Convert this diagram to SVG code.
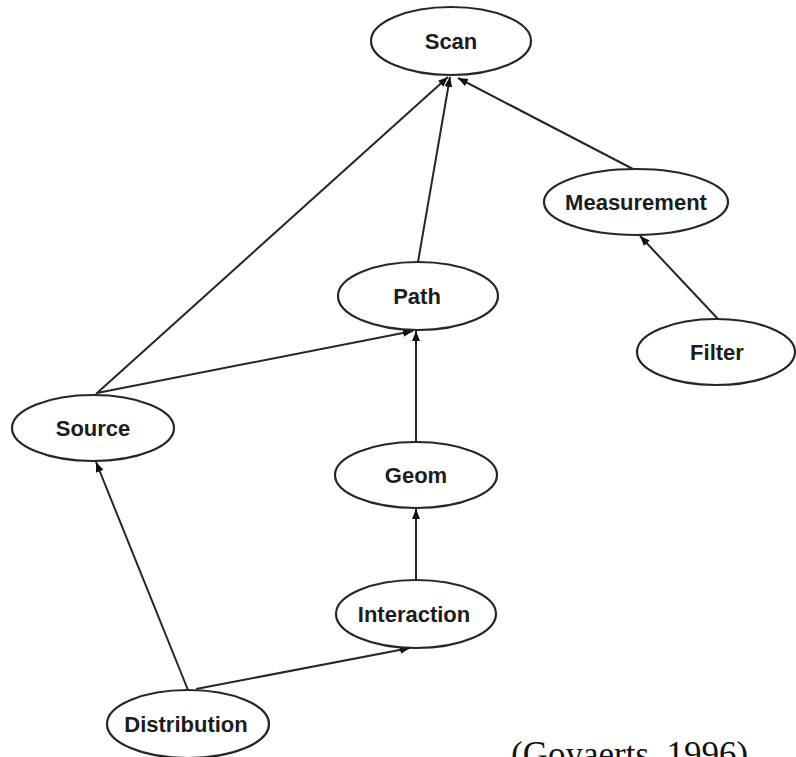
<svg xmlns="http://www.w3.org/2000/svg" width="796" height="757" viewBox="0 0 796 757">
  <style>
    .node ellipse { fill: #ffffff; stroke: #262626; stroke-width: 2.2; }
    .node text { font-family: "Liberation Sans", Arial, Helvetica, sans-serif; font-weight: bold; font-size: 22px; fill: #1c1c1c; text-anchor: middle; }
    .edge { stroke: #262626; stroke-width: 2; fill: none; marker-end: url(#arrow); }
    .cite { font-family: "Liberation Serif", "Times New Roman", serif; font-size: 35px; fill: #111111; }
  </style>
  <defs>
    <marker id="arrow" markerUnits="userSpaceOnUse" markerWidth="12" markerHeight="10" refX="10" refY="4" orient="auto">
      <path d="M0,0 L10,4 L0,8 Z" fill="#111111"/>
    </marker>
  </defs>

  <rect x="0" y="0" width="796" height="757" fill="#ffffff"/>

  <!-- connectors -->
  <g id="connectors">
    <line class="edge" x1="96" y1="394" x2="448" y2="77"/>
    <line class="edge" x1="97" y1="393" x2="413" y2="331"/>
    <line class="edge" x1="418" y1="262" x2="450" y2="77"/>
    <line class="edge" x1="633" y1="169" x2="458" y2="78"/>
    <line class="edge" x1="718" y1="319" x2="640" y2="236"/>
    <line class="edge" x1="416" y1="442" x2="416" y2="331"/>
    <line class="edge" x1="416" y1="580" x2="416" y2="509"/>
    <line class="edge" x1="188" y1="690" x2="96" y2="462"/>
    <line class="edge" x1="196" y1="689" x2="410" y2="648"/>
  </g>

  <!-- nodes -->
  <g id="scan" class="node">
    <ellipse cx="451" cy="41" rx="80" ry="34"/>
    <text x="451" y="49">Scan</text>
  </g>
  <g id="measurement" class="node">
    <ellipse cx="636" cy="202" rx="92" ry="33"/>
    <text x="636" y="210">Measurement</text>
  </g>
  <g id="filter" class="node">
    <ellipse cx="716" cy="352" rx="79" ry="33"/>
    <text x="717" y="360">Filter</text>
  </g>
  <g id="path" class="node">
    <ellipse cx="418" cy="296" rx="80" ry="34"/>
    <text x="417" y="304">Path</text>
  </g>
  <g id="geom" class="node">
    <ellipse cx="416" cy="475" rx="81" ry="33"/>
    <text x="416" y="483">Geom</text>
  </g>
  <g id="source" class="node">
    <ellipse cx="93" cy="428" rx="81" ry="33"/>
    <text x="93" y="436">Source</text>
  </g>
  <g id="interaction" class="node">
    <ellipse cx="416" cy="614" rx="80" ry="34"/>
    <text x="414" y="622">Interaction</text>
  </g>
  <g id="distribution" class="node">
    <ellipse cx="188" cy="724" rx="81" ry="34"/>
    <text x="186" y="732">Distribution</text>
  </g>

  <text class="cite" x="511" y="766">(Goyaerts, 1996)</text>
</svg>
